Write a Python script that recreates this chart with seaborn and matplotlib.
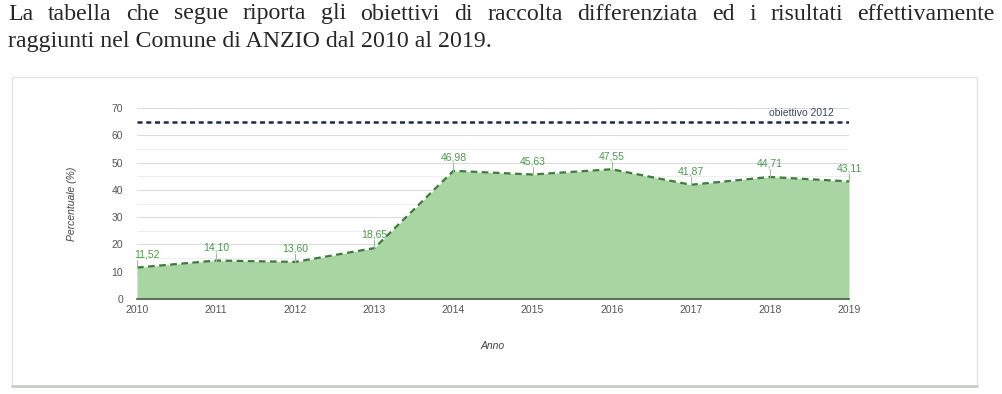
import matplotlib
matplotlib.use("Agg")
import matplotlib.pyplot as plt
import seaborn as sns
import pandas as pd
from matplotlib.patches import Rectangle
from matplotlib.lines import Line2D
from matplotlib.ticker import MultipleLocator

anni = [2010, 2011, 2012, 2013, 2014, 2015, 2016, 2017, 2018, 2019]
percentuali = [11.52, 14.10, 13.60, 18.65, 46.98, 45.63, 47.55, 41.87, 44.71, 43.11]
obiettivo = 65
obiettivo_label = "obiettivo 2012"
y_ticks = [0, 10, 20, 30, 40, 50, 60, 70]
riga1 = "La tabella che segue riporta gli obiettivi di raccolta differenziata ed i risultati effettivamente"
riga2 = "raggiunti nel Comune di ANZIO dal 2010 al 2019."

df = pd.DataFrame({"Anno": anni, "Percentuale": percentuali})

sns.set_style("white")
plt.rcParams["font.family"] = ["Liberation Sans", "DejaVu Sans"]

W, H = 1002, 394
fig = plt.figure(figsize=(W / 100, H / 100), dpi=100)

# chart frame
fig.add_artist(Rectangle((12 / W, 1 - 386 / H), (977 - 12) / W, (386 - 77) / H,
                         transform=fig.transFigure, fill=False,
                         edgecolor="#e4e4e4", linewidth=1))
fig.add_artist(Line2D([12 / W, 977 / W], [1 - 386 / H, 1 - 386 / H],
                      transform=fig.transFigure, color="#c5cec5", linewidth=2))

ax = fig.add_axes([137 / W, 1 - 299 / H, (849 - 137) / W, (299 - 108) / H])

green_fill = "#a9d5a3"
green_line = "#3e7a3e"
green_text = "#4c9a4c"

ax.fill_between(df["Anno"], df["Percentuale"], 0, color=green_fill, zorder=1, linewidth=0)
sns.lineplot(data=df, x="Anno", y="Percentuale", ax=ax, color=green_line,
             linewidth=1.6, linestyle=(0, (3, 2)), zorder=3)
ax.axhline(obiettivo, color="#1c2a48", linewidth=1.8, linestyle=(0, (2, 1.5)), zorder=4)
ax.text(anni[-1] - 0.6, obiettivo + 1.2, obiettivo_label, ha="center", va="bottom",
        fontsize=7.5, color="#3a4660")

for i, (a, p) in enumerate(zip(anni, percentuali)):
    dx = 0.12 if i == 0 else 0
    ax.plot([a, a], [p, p + 2.8], color="#9bbf9b", linewidth=0.8, zorder=5, clip_on=False)
    ax.text(a + dx, p + 3.0, f"{p:.2f}".replace(".", ","), ha="center", va="bottom",
            fontsize=7.5, color=green_text, zorder=6, clip_on=False)

ax.set_xlim(anni[0], anni[-1])
ax.set_ylim(0, 70)
ax.set_xticks(anni)
ax.set_yticks(y_ticks)
ax.yaxis.set_minor_locator(MultipleLocator(5))
ax.grid(which="major", axis="y", color="#dcdcdc", linewidth=0.8, zorder=0)
ax.grid(which="minor", axis="y", color="#efefef", linewidth=0.8, zorder=0)
ax.set_axisbelow(True)
sns.despine(ax=ax, left=True, top=True, right=True)
ax.spines["bottom"].set_color("#4a5a4a")
ax.spines["bottom"].set_linewidth(1.2)
ax.tick_params(axis="both", length=0, labelsize=7.5, labelcolor="#555555")
ax.tick_params(axis="y", pad=10)
ax.tick_params(axis="x", pad=4)
ax.set_xlabel("Anno", fontsize=7.5, style="italic", color="#444444", labelpad=19)
ax.set_ylabel("Percentuale (%)", fontsize=7.5, style="italic", color="#444444", labelpad=25)

# header text, first line justified
serif = ["Liberation Serif", "DejaVu Serif"]
fs = 17.2
renderer = fig.canvas.get_renderer()
words = riga1.split(" ")
objs = [fig.text(0, 1 - 14 / H, w, family=serif, fontsize=fs, va="center", ha="left")
        for w in words]
widths = [o.get_window_extent(renderer).width for o in objs]
x0, x1 = 8, 995
gap = (x1 - x0 - sum(widths)) / (len(words) - 1)
x = x0
for o, w in zip(objs, widths):
    o.set_x(x / W)
    x += w + gap
fig.text(8 / W, 1 - 41 / H, riga2, family=serif, fontsize=fs, va="center", ha="left")

fig.savefig("out.png", dpi=100)
